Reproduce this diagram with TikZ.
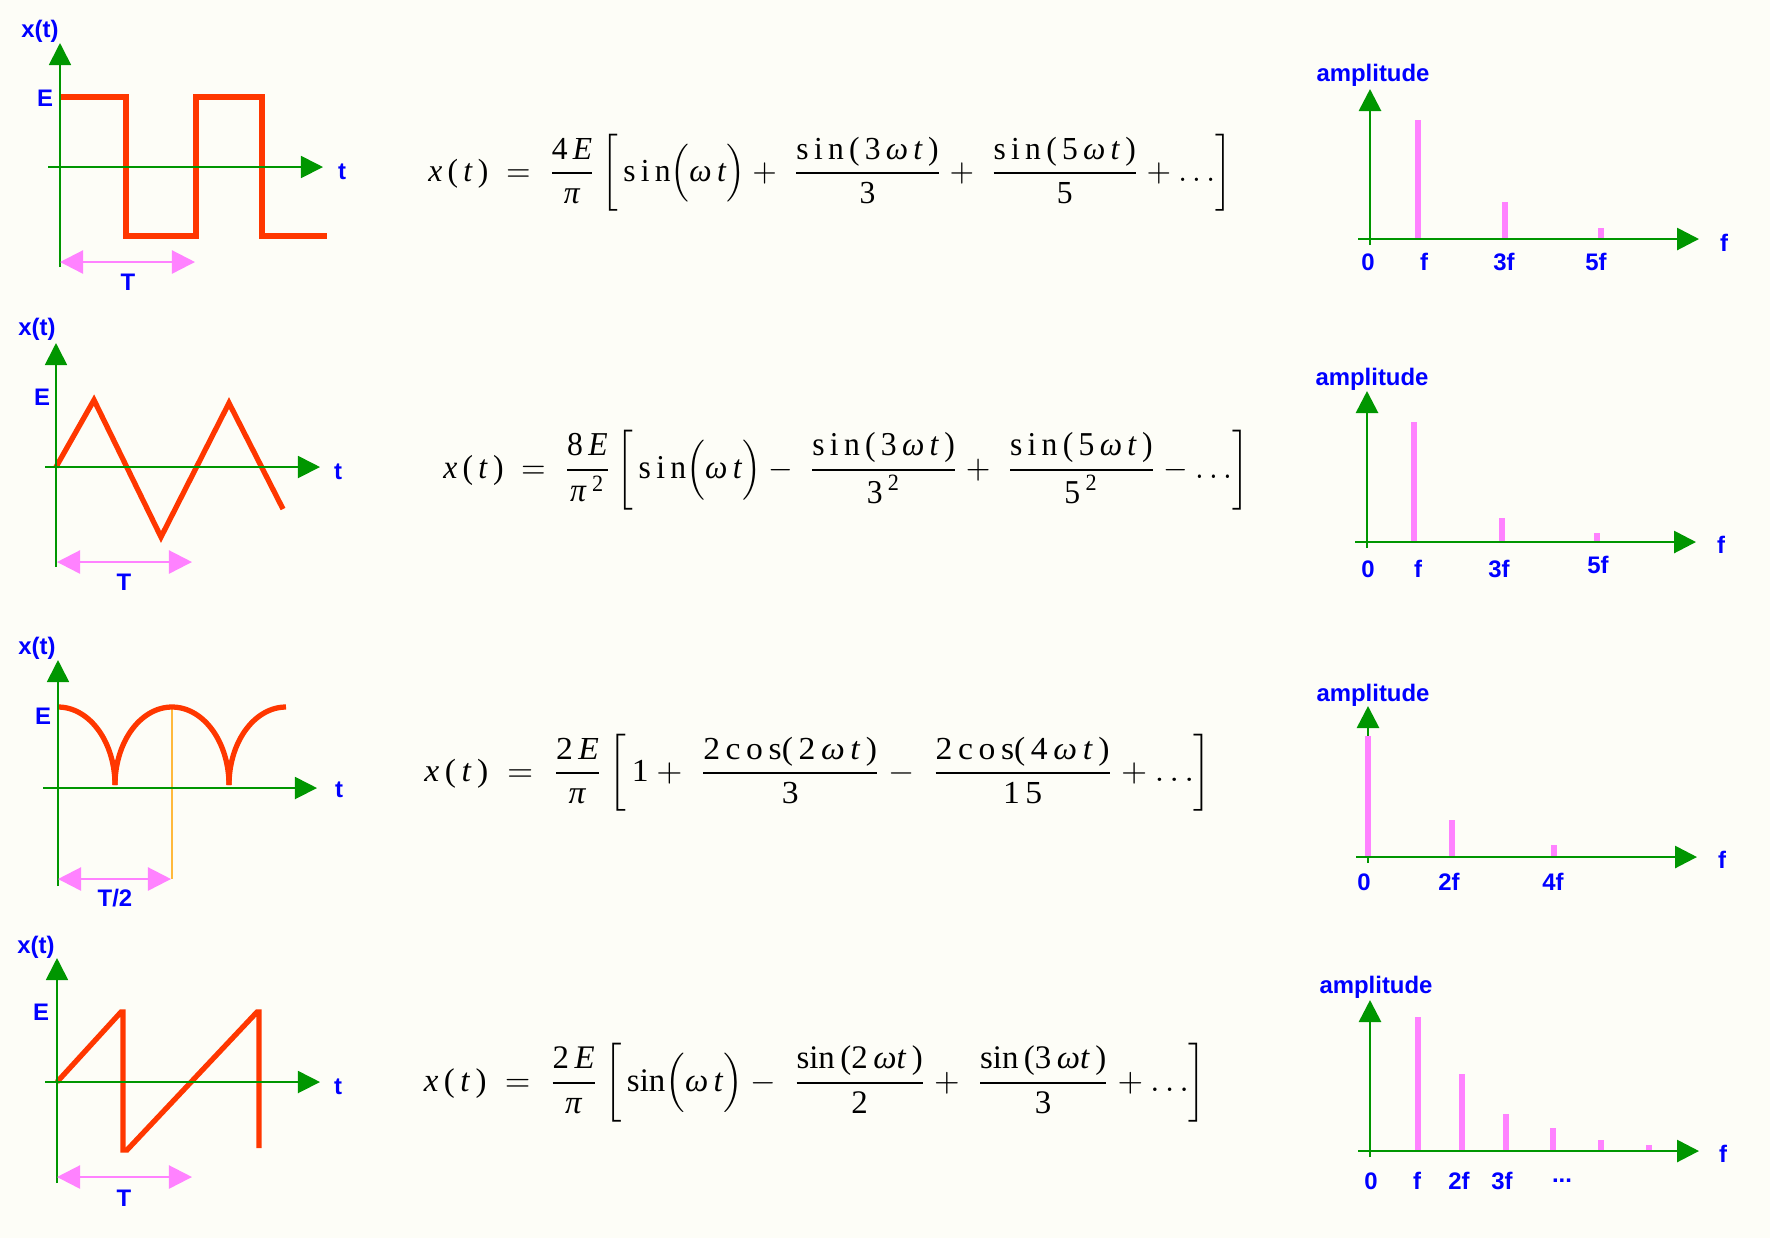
\documentclass[tikz,border=0pt]{standalone}
\usepackage{fontspec}
\usepackage{amsmath}
\usepackage{graphicx}
\setmainfont{Liberation Serif}
\newfontfamily\labfont{Liberation Sans}
\usetikzlibrary{arrows.meta}
\definecolor{bgc}{RGB}{253,253,247}
\definecolor{axgreen}{RGB}{0,150,0}
\definecolor{wred}{RGB}{255,55,0}
\definecolor{pinkc}{RGB}{255,130,255}
\definecolor{labblue}{RGB}{0,0,255}
\definecolor{orangec}{RGB}{255,185,60}
\newcommand\ii[1]{\textit{#1}}
\tikzset{
 ax/.style={draw=axgreen, line width=0.5pt, -{Triangle[length=2.2mm,width=2.2mm]}},
 spax/.style={draw=axgreen, line width=0.8pt, -{Triangle[length=2.2mm,width=2.2mm]}},
 wave/.style={draw=wred, line width=1.5pt, line join=miter},
 per/.style={draw=pinkc, line width=0.65pt, {Triangle[length=2.3mm,width=2.3mm]}-{Triangle[length=2.3mm,width=2.3mm]}},
 specbar/.style={draw=pinkc, line width=1.6pt},
 lbl/.style={text=labblue, font=\labfont\bfseries\fontsize{6.8pt}{7.5pt}\selectfont, inner sep=0pt},
 eqn/.style={inner sep=0pt}
}
\begin{document}
\begin{tikzpicture}[x=0.01cm, y=-0.01cm]
\fill[bgc] (0,0) rectangle (1770,1238);
\useasboundingbox (0,0) rectangle (1770,1238);

% ================= Row 1: square wave =================
\coordinate (a1yb) at (60,267); \coordinate (a1yt) at (60,43);
\coordinate (a1xl) at (48,167); \coordinate (a1xr) at (323,167);
\draw[wave] (60,97) -- (126,97) -- (126,236) -- (196,236) -- (196,97) -- (262,97) -- (262,236) -- (327,236);
\draw[ax] (a1yb) -- (a1yt);
\draw[ax] (a1xl) -- (a1xr);
\coordinate (p1l) at (60,262); \coordinate (p1r) at (195,262);
\draw[per] (p1l) -- (p1r);
\node[lbl] (l1xt) at (40,31) {x(t)};
\node[lbl] (l1E) at (45,98) {E};
\node[lbl] (l1t) at (342,172) {t};
\node[lbl] (l1T) at (128,282) {T};

% ================= Row 2: triangle wave =================
\coordinate (a2yb) at (56,567); \coordinate (a2yt) at (56,343);
\coordinate (a2xl) at (45,467); \coordinate (a2xr) at (320,467);
\draw[wave] (56,467) -- (94,400) -- (161,537) -- (229,403) -- (283,509);
\draw[ax] (a2yb) -- (a2yt);
\draw[ax] (a2xl) -- (a2xr);
\coordinate (p2l) at (57,562); \coordinate (p2r) at (192,562);
\draw[per] (p2l) -- (p2r);
\node[lbl] (l2xt) at (37,329) {x(t)};
\node[lbl] (l2E) at (42,397) {E};
\node[lbl] (l2t) at (338,472) {t};
\node[lbl] (l2T) at (124,582) {T};

% ================= Row 3: rectified sine =================
\coordinate (a3yb) at (58,886); \coordinate (a3yt) at (58,660);
\coordinate (a3xl) at (43,788); \coordinate (a3xr) at (317,788);
\draw[orangec, line width=0.4pt] (172,707) -- (172,879);
\draw[wave] plot[domain=90:0, samples=40] ({58+57*cos(\x)},{785-78*sin(\x)});
\draw[wave] plot[domain=180:0, samples=80] ({172+57*cos(\x)},{785-78*sin(\x)});
\draw[wave] plot[domain=180:90, samples=40] ({286+57*cos(\x)},{785-78*sin(\x)});
\draw[ax] (a3yb) -- (a3yt);
\draw[ax] (a3xl) -- (a3xr);
\coordinate (p3l) at (58,879); \coordinate (p3r) at (171,879);
\draw[per] (p3l) -- (p3r);
\node[lbl] (l3xt) at (37,648) {x(t)};
\node[lbl] (l3E) at (43,716) {E};
\node[lbl] (l3t) at (339,790) {t};
\node[lbl] (l3T) at (115,898) {T/2};

% ================= Row 4: sawtooth =================
\coordinate (a4yb) at (57,1183); \coordinate (a4yt) at (57,958);
\coordinate (a4xl) at (45,1082); \coordinate (a4xr) at (320,1082);
\draw[wave] (57,1082) -- (121,1012) -- (123,1012) -- (123,1150) -- (127,1150) -- (257,1012) -- (259,1012) -- (259,1148);
\draw[ax] (a4yb) -- (a4yt);
\draw[ax] (a4xl) -- (a4xr);
\coordinate (p4l) at (57,1177); \coordinate (p4r) at (192,1177);
\draw[per] (p4l) -- (p4r);
\node[lbl] (l4xt) at (36,947) {x(t)};
\node[lbl] (l4E) at (41,1012) {E};
\node[lbl] (l4t) at (338,1087) {t};
\node[lbl] (l4T) at (124,1198) {T};

% ================= Equations =================
\node[eqn] (eq1) at (830,173) {\resizebox*{8.03cm}{0.77cm}{$\displaystyle
 \text{\ii{x}\,(\,\ii{t}\,)}\;=\;\frac{\text{4\,\ii{E}}}{\text{\ii{π}}}\left[\,\text{s\,i\,n}\Bigl(\text{\ii{ω}\,\ii{t}}\Bigr)+\;\frac{\text{s\,i\,n\,(\,3\,\ii{ω\,t}\,)}}{\text{3}}+\;\frac{\text{s\,i\,n\,(\,5\,\ii{ω\,t}\,)}}{\text{5}}+\ldots\right]$}};

\node[eqn] (eq2) at (846,470) {\resizebox*{8.05cm}{0.80cm}{$\displaystyle
 \text{\ii{x}\,(\,\ii{t}\,)}\;=\;\frac{\text{8\,\ii{E}}}{\text{\ii{π}\,}^{\text{2}}}\left[\,\text{s\,i\,n}\Bigl(\text{\ii{ω}\,\ii{t}}\Bigr)-\;\frac{\text{s\,i\,n\,(\,3\,\ii{ω\,t}\,)}}{\text{3\,}^{\text{2}}}+\;\frac{\text{s\,i\,n\,(\,5\,\ii{ω\,t}\,)}}{\text{5\,}^{\text{2}}}-\ldots\right]$}};

\node[eqn] (eq3) at (818,773) {\resizebox*{7.87cm}{0.77cm}{$\displaystyle
 \text{\ii{x}\,(\,\ii{t}\,)}\;=\;\frac{\text{2\,\ii{E}}}{\text{\ii{π}}}\left[\,\text{1}+\;\frac{\text{2\,c\,o\,s(\,2\,\ii{ω\,t}\,)}}{\text{3}}-\;\frac{\text{2\,c\,o\,s(\,4\,\ii{ω\,t}\,)}}{\text{1\,5}}+\ldots\right]$}};

\node[eqn] (eq4) at (815,1083) {\resizebox*{7.82cm}{0.79cm}{$\displaystyle
 \text{\ii{x}\,(\,\ii{t}\,)}\;=\;\frac{\text{2\,\ii{E}}}{\text{\ii{π}}}\left[\,\text{sin}\Bigl(\text{\ii{ω}\,\ii{t}}\Bigr)-\;\frac{\text{sin\,(2\,\ii{ωt}\,)}}{\text{2}}+\;\frac{\text{sin\,(3\,\ii{ωt}\,)}}{\text{3}}+\ldots\right]$}};

% ================= Spectrum 1 =================
\draw[specbar] (1418,239) -- (1418,120);
\draw[specbar] (1505,239) -- (1505,202);
\draw[specbar] (1601,239) -- (1601,228);
\coordinate (s1yb) at (1370,245); \coordinate (s1yt) at (1370,89);
\coordinate (s1xl) at (1358,239); \coordinate (s1xr) at (1699,239);
\draw[spax] (s1yb) -- (s1yt);
\draw[spax] (s1xl) -- (s1xr);
\node[lbl] (s1amp) at (1373,75) {amplitude};
\node[lbl] (s1z) at (1368,262) {0};
\node[lbl] (s1f) at (1424,262) {f};
\node[lbl] (s13f) at (1504,262) {3f};
\node[lbl] (s15f) at (1596,262) {5f};
\node[lbl] (s1ax) at (1724,243) {f};

% ================= Spectrum 2 =================
\draw[specbar] (1414,542) -- (1414,422);
\draw[specbar] (1502,542) -- (1502,518);
\draw[specbar] (1597,542) -- (1597,533);
\coordinate (s2yb) at (1367,548); \coordinate (s2yt) at (1367,391);
\coordinate (s2xl) at (1355,542); \coordinate (s2xr) at (1696,542);
\draw[spax] (s2yb) -- (s2yt);
\draw[spax] (s2xl) -- (s2xr);
\node[lbl] (s2amp) at (1372,379) {amplitude};
\node[lbl] (s2z) at (1368,569) {0};
\node[lbl] (s2f) at (1418,569) {f};
\node[lbl] (s23f) at (1499,569) {3f};
\node[lbl] (s25f) at (1598,565) {5f};
\node[lbl] (s2ax) at (1721,545) {f};

% ================= Spectrum 3 =================
\coordinate (s3yb) at (1368,863); \coordinate (s3yt) at (1368,706);
\coordinate (s3xl) at (1356,857); \coordinate (s3xr) at (1697,857);
\draw[spax] (s3yb) -- (s3yt);
\draw[specbar] (1368,857) -- (1368,736);
\draw[specbar] (1452,857) -- (1452,820);
\draw[specbar] (1554,857) -- (1554,845);
\draw[spax] (s3xl) -- (s3xr);
\node[lbl] (s3amp) at (1373,695) {amplitude};
\node[lbl] (s3z) at (1364,882) {0};
\node[lbl] (s32f) at (1449,882) {2f};
\node[lbl] (s34f) at (1553,882) {4f};
\node[lbl] (s3ax) at (1722,860) {f};

% ================= Spectrum 4 =================
\draw[specbar] (1418,1151) -- (1418,1017);
\draw[specbar] (1462,1151) -- (1462,1074);
\draw[specbar] (1506,1151) -- (1506,1114);
\draw[specbar] (1553,1151) -- (1553,1128);
\draw[specbar] (1601,1151) -- (1601,1140);
\draw[specbar] (1649,1151) -- (1649,1145);
\coordinate (s4yb) at (1370,1157); \coordinate (s4yt) at (1370,1000);
\coordinate (s4xl) at (1358,1151); \coordinate (s4xr) at (1699,1151);
\draw[spax] (s4yb) -- (s4yt);
\draw[spax] (s4xl) -- (s4xr);
\node[lbl] (s4amp) at (1376,987) {amplitude};
\node[lbl] (s4z) at (1371,1181) {0};
\node[lbl] (s4f) at (1417,1181) {f};
\node[lbl] (s42f) at (1459,1181) {2f};
\node[lbl] (s43f) at (1502,1181) {3f};
\node[lbl] (s4dots) at (1562,1181) {...};
\node[lbl] (s4ax) at (1723,1154) {f};
\end{tikzpicture}
\end{document}
